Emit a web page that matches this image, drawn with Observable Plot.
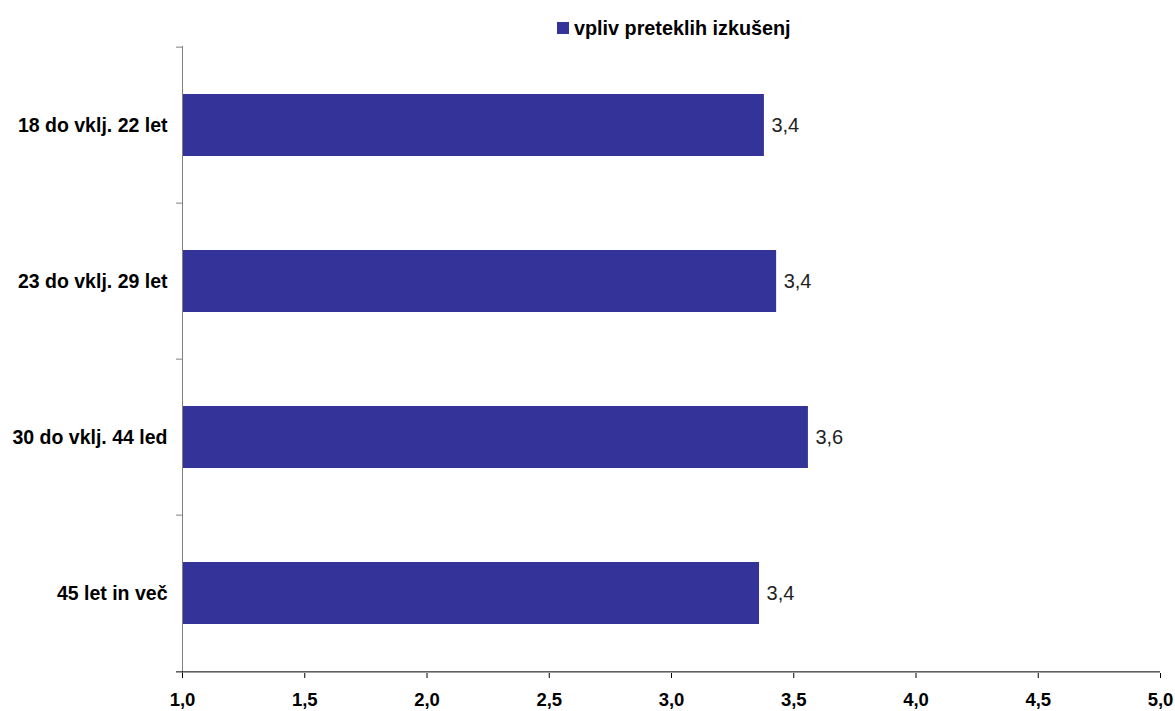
<!DOCTYPE html>
<html>
<head>
<meta charset="utf-8">
<script src="https://cdn.jsdelivr.net/npm/d3@7"></script>
<script src="https://cdn.jsdelivr.net/npm/@observablehq/plot@0.6"></script>
<style>
  html, body { margin: 0; padding: 0; background: #fff; }
  #legend { height: 40px; position: relative; font-family: "Liberation Sans", Arial, sans-serif; font-weight: bold; font-size: 19.8px; color: #000; }
  #legend .sw { position: absolute; left: 557px; top: 22px; width: 12px; height: 12px; background: #333399; }
  #legend .tx { position: absolute; left: 574px; top: 19px; line-height: 19px; white-space: nowrap; }
</style>
</head>
<body>
<div id="legend"><div class="sw"></div><div class="tx" id="legend-text"></div></div>
<div id="chart"></div>
<script>
const seriesName = "vpliv preteklih izkušenj";
const categories = ["18 do vklj. 22 let", "23 do vklj. 29 let", "30 do vklj. 44 led", "45 let in več"];
const values = [3.38, 3.43, 3.56, 3.36];
const valueLabels = ["3,4", "3,4", "3,6", "3,4"];
const xTicks = [1.0, 1.5, 2.0, 2.5, 3.0, 3.5, 4.0, 4.5, 5.0];

document.getElementById("legend-text").textContent = seriesName;

const data = categories.map((c, i) => ({category: c, value: values[i], label: valueLabels[i]}));
const fmt = d => d3.format(".1f")(d).replace(".", ",");
const font = "Liberation Sans, Arial, sans-serif";

const width = 1175, height = 671;
const marginTop = 6, marginBottom = 38, marginLeft = 182, marginRight = 15;
const step = (height - marginTop - marginBottom) / categories.length;
const lastCat = categories[categories.length - 1];

const chart = Plot.plot({
  width, height, marginTop, marginBottom, marginLeft, marginRight,
  style: {background: "#fff", overflow: "visible", fontSize: "19px", fontFamily: font, fontWeight: "bold", color: "#000"},
  x: {domain: [1, 5], ticks: xTicks, tickFormat: fmt, label: null},
  y: {domain: categories, paddingInner: 0.6, paddingOuter: 0.3, label: null},
  marks: [
    Plot.barX(data, {x1: 1, x2: "value", y: "category", fill: "#333399"}),
    Plot.text(data, {x: "value", y: "category", text: "label", dx: 7, textAnchor: "start",
      fill: "#222", fontSize: 20, fontWeight: "normal", fontFamily: font, style: "letter-spacing:1.5px"}),
    // category boundary ticks on the y axis
    Plot.ruleY(categories, {y: d => d, dy: -step / 2, x1: 1, x2: 1, insetLeft: -6, insetRight: 0, stroke: "#808080"}),
    Plot.ruleX([1], {stroke: "#808080"}),
    Plot.ruleY([lastCat], {y: d => d, dy: step / 2, x1: 1, x2: 5, insetLeft: -6, stroke: "#000"}),
    Plot.axisX({ticks: xTicks, tickFormat: fmt, tickSize: 5, tickPadding: 14, stroke: "#000",
      fontSize: 18.5, fontWeight: "bold", fontFamily: font, fill: "#000", label: null}),
    Plot.axisY({tickSize: 0, tickPadding: 15, fontSize: 19.5, fontWeight: "bold",
      fontFamily: font, fill: "#000", label: null})
  ]
});
document.getElementById("chart").appendChild(chart);
</script>
</body>
</html>
